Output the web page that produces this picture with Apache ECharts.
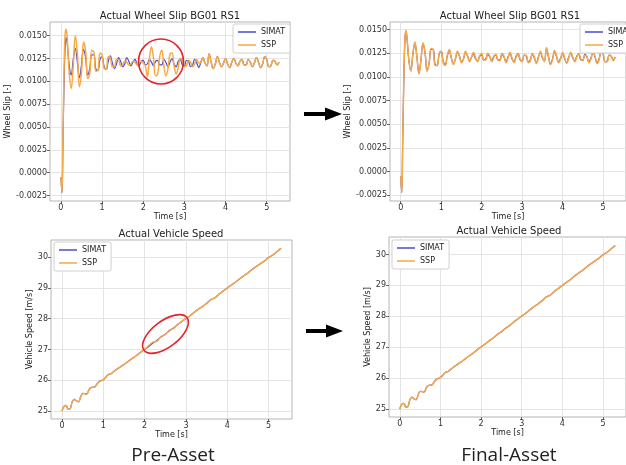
<!DOCTYPE html>
<html>
<head>
<meta charset="utf-8">
<script src="https://cdn.jsdelivr.net/npm/echarts@6/dist/echarts.min.js"></script>
<style>html,body{margin:0;padding:0;background:#fff;}</style>
</head>
<body>
<div id="main" style="width:626px;height:465px;"></div>
<script>
// time samples for the wheel slip traces [s]
var tSlip = [0, 0.025, 0.05, 0.075, 0.1, 0.125, 0.15,
  0.2, 0.25, 0.3, 0.35, 0.4, 0.45, 0.5, 0.55, 0.6, 0.65,
  0.7, 0.75, 0.8, 0.85, 0.9, 0.95, 1.0, 1.05, 1.1, 1.15,
  1.2, 1.25, 1.3, 1.35, 1.4, 1.45, 1.5, 1.55, 1.6, 1.65,
  1.7, 1.75, 1.8, 1.85, 1.9, 1.95, 2.0, 2.05, 2.1, 2.15,
  2.2, 2.25, 2.3, 2.35, 2.4, 2.45, 2.5, 2.55, 2.6, 2.65,
  2.7, 2.75, 2.8, 2.85, 2.9, 2.95, 3.0, 3.05, 3.1, 3.15,
  3.2, 3.25, 3.3, 3.35, 3.4, 3.45, 3.5, 3.55, 3.6, 3.65,
  3.7, 3.75, 3.8, 3.85, 3.9, 3.95, 4.0, 4.05, 4.1, 4.15,
  4.2, 4.25, 4.3, 4.35, 4.4, 4.45, 4.5, 4.55, 4.6, 4.65,
  4.7, 4.75, 4.8, 4.85, 4.9, 4.95, 5.0, 5.05, 5.1, 5.15,
  5.2, 5.25, 5.3];

// SIMAT wheel slip (same reference in both plots)
var simatSlip = [-0.0005, -0.0022, 0.0035, 0.0095, 0.0135, 0.0148, 0.0143,
  0.0118, 0.0107, 0.0124, 0.0136, 0.0121, 0.0104, 0.0118, 0.0135, 0.0126, 0.0107,
  0.0114, 0.0129, 0.0129, 0.0113, 0.0112, 0.0124, 0.0127, 0.0116, 0.0113, 0.0122,
  0.0128, 0.0120, 0.0114, 0.0119, 0.0126, 0.0122, 0.0116, 0.0119, 0.0126, 0.0122,
  0.0117, 0.0121, 0.0124, 0.0119, 0.0117, 0.0122, 0.0123, 0.0118, 0.0119, 0.0124,
  0.0121, 0.0117, 0.0122, 0.0123, 0.0118, 0.0118, 0.0124, 0.0121, 0.0116, 0.0121,
  0.0125, 0.0119, 0.0116, 0.0122, 0.0124, 0.0118, 0.0117, 0.0123, 0.0122, 0.0116,
  0.0118, 0.0124, 0.0120, 0.0115, 0.0121, 0.0126, 0.0120, 0.0117, 0.0130, 0.0121,
  0.0114, 0.0119, 0.0127, 0.0121, 0.0116, 0.0120, 0.0125, 0.0119, 0.0115, 0.0121,
  0.0125, 0.0120, 0.0117, 0.0122, 0.0124, 0.0118, 0.0118, 0.0124, 0.0121, 0.0116,
  0.0120, 0.0126, 0.0121, 0.0115, 0.0119, 0.0127, 0.0124, 0.0116, 0.0117, 0.0123,
  0.0122, 0.0118, 0.0121];

// SSP wheel slip, pre-asset
var sspSlipPre = [-0.0005, -0.0022, 0.0040, 0.0110, 0.0150, 0.0157, 0.0150,
  0.0110, 0.0092, 0.0118, 0.0150, 0.0130, 0.0094, 0.0110, 0.0143, 0.0133, 0.0103,
  0.0108, 0.0134, 0.0132, 0.0111, 0.0112, 0.0131, 0.0129, 0.0114, 0.0113, 0.0127,
  0.0126, 0.0116, 0.0116, 0.0124, 0.0124, 0.0117, 0.0118, 0.0122, 0.0121, 0.0118,
  0.0119, 0.0122, 0.0121, 0.0118, 0.0120, 0.0122, 0.0120, 0.0117, 0.0105, 0.0125,
  0.0138, 0.0125, 0.0106, 0.0108, 0.0127, 0.0134, 0.0118, 0.0106, 0.0114, 0.0130,
  0.0131, 0.0117, 0.0108, 0.0115, 0.0125, 0.0124, 0.0116, 0.0117, 0.0123, 0.0121,
  0.0116, 0.0119, 0.0124, 0.0120, 0.0121, 0.0126, 0.0120, 0.0117, 0.0130, 0.0121,
  0.0114, 0.0119, 0.0127, 0.0121, 0.0116, 0.0120, 0.0125, 0.0119, 0.0115, 0.0121,
  0.0125, 0.0120, 0.0117, 0.0122, 0.0124, 0.0118, 0.0118, 0.0124, 0.0121, 0.0116,
  0.0120, 0.0126, 0.0121, 0.0115, 0.0119, 0.0127, 0.0124, 0.0116, 0.0117, 0.0123,
  0.0122, 0.0118, 0.0121];

// SSP wheel slip, final asset
var sspSlipFinal = [-0.0005, -0.0022, 0.0035, 0.0095, 0.0137, 0.0149, 0.0144,
  0.0118, 0.0106, 0.0124, 0.0137, 0.0121, 0.0103, 0.0118, 0.0136, 0.0126, 0.0106,
  0.0114, 0.0130, 0.0129, 0.0112, 0.0112, 0.0125, 0.0127, 0.0115, 0.0112, 0.0123,
  0.0129, 0.0120, 0.0113, 0.0119, 0.0127, 0.0122, 0.0115, 0.0119, 0.0127, 0.0122,
  0.0116, 0.0121, 0.0126, 0.0120, 0.0116, 0.0122, 0.0125, 0.0118, 0.0118, 0.0125,
  0.0122, 0.0116, 0.0121, 0.0124, 0.0118, 0.0117, 0.0125, 0.0122, 0.0115, 0.0120,
  0.0126, 0.0120, 0.0115, 0.0121, 0.0125, 0.0119, 0.0116, 0.0123, 0.0123, 0.0115,
  0.0117, 0.0125, 0.0121, 0.0114, 0.0120, 0.0127, 0.0121, 0.0116, 0.0131, 0.0122,
  0.0113, 0.0118, 0.0128, 0.0122, 0.0115, 0.0119, 0.0126, 0.0120, 0.0114, 0.0120,
  0.0126, 0.0121, 0.0116, 0.0121, 0.0125, 0.0119, 0.0117, 0.0123, 0.0122, 0.0115,
  0.0119, 0.0127, 0.0122, 0.0114, 0.0118, 0.0127, 0.0125, 0.0116, 0.0116, 0.0123,
  0.0122, 0.0117, 0.0121];

// time samples for the vehicle speed traces [s]
var tSpeed = [0, 0.05, 0.1, 0.15, 0.2, 0.25, 0.3, 0.35, 0.4, 0.45,
  0.5, 0.55, 0.6, 0.65, 0.7, 0.75, 0.8, 0.85, 0.9, 0.95,
  1.0, 1.05, 1.1, 1.15, 1.2, 1.25, 1.3, 1.35, 1.4, 1.45,
  1.5,
  1.6, 1.7, 1.8, 1.9, 2.0, 2.1, 2.2, 2.3, 2.4, 2.5,
  2.6, 2.7, 2.8, 2.9, 3.0, 3.1, 3.2, 3.3, 3.4, 3.5,
  3.6, 3.7, 3.8, 3.9, 4.0, 4.1, 4.2, 4.3, 4.4, 4.5,
  4.6, 4.7, 4.8, 4.9, 5.0, 5.1, 5.2, 5.3];

// SIMAT vehicle speed [m/s]
var simatSpeed = [25.00, 25.15, 25.18, 25.06, 25.08, 25.30, 25.38, 25.33, 25.30, 25.45,
  25.57, 25.56, 25.55, 25.68, 25.76, 25.77, 25.79, 25.88, 25.96, 25.99,
  26.02, 26.08, 26.16, 26.20, 26.22, 26.28, 26.33, 26.38, 26.42, 26.47,
  26.51,
  26.61, 26.71, 26.80, 26.91, 27.01, 27.10, 27.21, 27.30, 27.41, 27.50,
  27.61, 27.70, 27.81, 27.91, 28.01, 28.10, 28.21, 28.31, 28.40, 28.50,
  28.62, 28.68, 28.80, 28.90, 29.00, 29.10, 29.19, 29.30, 29.40, 29.49,
  29.60, 29.70, 29.79, 29.88, 29.99, 30.07, 30.18, 30.29];

// SSP vehicle speed, pre-asset
var sspSpeedPre = [25.00, 25.15, 25.18, 25.06, 25.08, 25.30, 25.38, 25.33, 25.30, 25.45,
  25.57, 25.56, 25.55, 25.68, 25.76, 25.77, 25.79, 25.88, 25.96, 25.99,
  26.02, 26.08, 26.16, 26.20, 26.22, 26.28, 26.33, 26.38, 26.42, 26.47,
  26.51,
  26.61, 26.71, 26.80, 26.91, 27.01, 27.13, 27.24, 27.27, 27.43, 27.48,
  27.63, 27.68, 27.82, 27.91, 28.01, 28.10, 28.21, 28.31, 28.40, 28.50,
  28.62, 28.68, 28.80, 28.90, 29.00, 29.10, 29.19, 29.30, 29.40, 29.49,
  29.60, 29.70, 29.79, 29.88, 29.99, 30.07, 30.18, 30.29];

var timeTicks = [0, 1, 2, 3, 4, 5];
var slipTicks = [-0.0025, 0, 0.0025, 0.005, 0.0075, 0.01, 0.0125, 0.015];
var speedTicks = [25, 26, 27, 28, 29, 30];

var BLUE = '#4b4bc9';
var ORANGE = '#f6a944';
var FONT = 'DejaVu Sans';

function pairs(t, v) {
    return t.map(function (x, i) { return [x, v[i]]; });
}

function xAx(idx, gap) {
    return {
        type: 'value', gridIndex: idx, min: -0.265, max: 5.565,
        name: 'Time [s]', nameLocation: 'middle', nameGap: gap,
        nameTextStyle: {fontSize: 8, fontFamily: FONT, color: '#222'},
        axisLine: {show: false, onZero: false},
        axisTick: {show: true, length: 3, customValues: timeTicks, lineStyle: {color: '#666'}},
        axisLabel: {customValues: timeTicks, margin: 3, fontSize: 8, fontFamily: FONT, color: '#333'},
        splitLine: {show: true, lineStyle: {color: '#e4e4e4'}}
    };
}

function yAx(idx, min, max, ticks, dec, name, gap) {
    return {
        type: 'value', gridIndex: idx, min: min, max: max,
        name: name, nameLocation: 'middle', nameRotate: 90, nameGap: gap,
        nameTextStyle: {fontSize: 8, fontFamily: FONT, color: '#222'},
        axisLine: {show: false, onZero: false},
        axisTick: {show: true, length: 3, customValues: ticks, lineStyle: {color: '#666'}},
        axisLabel: {customValues: ticks, margin: 3, fontSize: 8, fontFamily: FONT, color: '#333',
            formatter: function (v) { return v.toFixed(dec); }},
        splitLine: {show: true, lineStyle: {color: '#e4e4e4'}}
    };
}

function legendAt(left, top) {
    return {
        left: left, top: top, orient: 'vertical', data: ['SIMAT', 'SSP'],
        icon: 'rect', itemWidth: 18, itemHeight: 1.5, itemGap: 5, padding: [4, 5],
        backgroundColor: '#fff', borderColor: '#d0d0d0', borderWidth: 1, borderRadius: 2,
        textStyle: {fontSize: 8, fontFamily: FONT, color: '#222'}
    };
}

function line(name, color, width, xi, t, v) {
    return {
        name: name, type: 'line', xAxisIndex: xi, yAxisIndex: xi,
        data: pairs(t, v), symbol: 'none', showSymbol: false, smooth: 0.4,
        color: color,
        lineStyle: {color: color, width: width},
        emphasis: {disabled: true}
    };
}

function label(text, x, y, size, family) {
    return {
        type: 'text', x: x, y: y, z: 10,
        style: {text: text, fontSize: size, fontFamily: family, fill: '#222',
            align: 'center', verticalAlign: 'middle', textAlign: 'center', textVerticalAlign: 'middle'}
    };
}

var myChart = echarts.init(document.getElementById('main'));

var option = {
    animation: false,
    backgroundColor: '#fff',
    grid: [
        {left: 50, top: 22, width: 240, height: 179, show: true, borderColor: '#b5b5b5', borderWidth: 1},
        {left: 390, top: 22, width: 240, height: 179, show: true, borderColor: '#b5b5b5', borderWidth: 1},
        {left: 51, top: 240, width: 241, height: 179, show: true, borderColor: '#b5b5b5', borderWidth: 1},
        {left: 389, top: 237, width: 240, height: 180, show: true, borderColor: '#b5b5b5', borderWidth: 1}
    ],
    xAxis: [xAx(0, 9), xAx(1, 9), xAx(2, 9), xAx(3, 9)],
    yAxis: [
        yAx(0, -0.0031, 0.0165, slipTicks, 4, 'Wheel Slip [-]', 32),
        yAx(1, -0.0031, 0.0158, slipTicks, 4, 'Wheel Slip [-]', 28),
        yAx(2, 24.74, 30.56, speedTicks, 0, 'Vehicle Speed [m/s]', 13),
        yAx(3, 24.74, 30.565, speedTicks, 0, 'Vehicle Speed [m/s]', 12)
    ],
    legend: [legendAt(233, 24), legendAt(580, 24), legendAt(54, 242), legendAt(392, 240)],
    series: [
        line('SIMAT', BLUE, 1.2, 0, tSlip, simatSlip),
        line('SSP', ORANGE, 1.5, 0, tSlip, sspSlipPre),
        line('SIMAT', BLUE, 1.2, 1, tSlip, simatSlip),
        line('SSP', ORANGE, 1.5, 1, tSlip, sspSlipFinal),
        line('SIMAT', BLUE, 1.2, 2, tSpeed, simatSpeed),
        line('SSP', ORANGE, 1.5, 2, tSpeed, sspSpeedPre),
        line('SIMAT', BLUE, 1.2, 3, tSpeed, simatSpeed),
        line('SSP', ORANGE, 1.5, 3, tSpeed, simatSpeed)
    ],
    graphic: [
        label('Actual Wheel Slip BG01 RS1', 170, 16, 10, FONT),
        label('Actual Wheel Slip BG01 RS1', 510, 16, 10, FONT),
        label('Actual Vehicle Speed', 171, 234, 10, FONT),
        label('Actual Vehicle Speed', 509, 231, 10, FONT),
        label('Pre-Asset', 173, 456, 19, 'Open Sans'),
        label('Final-Asset', 509, 456, 19, 'Open Sans'),
        {type: 'polygon', z: 10, shape: {points: [[304, 112], [325, 112], [325, 107.5], [342, 114], [325, 120.5], [325, 116], [304, 116]]},
            style: {fill: '#000'}},
        {type: 'polygon', z: 10, shape: {points: [[306, 329], [326, 329], [326, 324.5], [343, 331], [326, 337.5], [326, 333], [306, 333]]},
            style: {fill: '#000'}},
        {type: 'circle', z: 10, shape: {cx: 161, cy: 61.5, r: 22.5},
            style: {fill: 'none', stroke: '#e0262c', lineWidth: 1.6}},
        {type: 'ellipse', z: 10, x: 165.5, y: 334, rotation: 0.65, shape: {cx: 0, cy: 0, rx: 27, ry: 13},
            style: {fill: 'none', stroke: '#e0262c', lineWidth: 1.6}}
    ]
};

myChart.setOption(option);
</script>
</body>
</html>
